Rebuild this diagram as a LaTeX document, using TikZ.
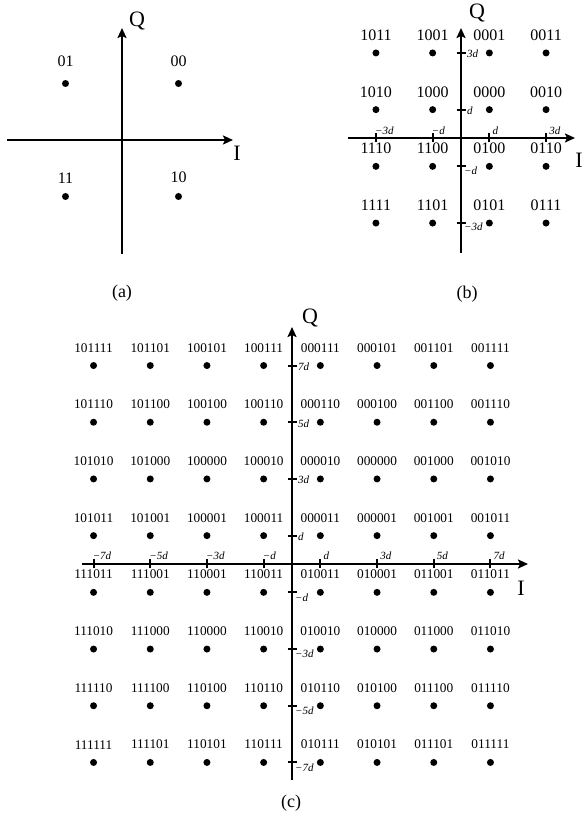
\documentclass[tikz,border=0pt]{standalone}
\usepackage{fontspec}
\setmainfont{Liberation Serif}
\usetikzlibrary{arrows.meta,positioning}

\tikzset{
  axis/.style={line width=2.7pt,-{Stealth[length=10pt,width=9pt,inset=2pt]}},
  tickmark/.style={line width=2pt},
  pt/.style={circle,fill,inner sep=0pt,minimum size=7pt},
  bits/.style={font=\fontsize{16}{16}\selectfont,inner sep=0pt},
  smallbits/.style={font=\fontsize{13.3}{13.3}\selectfont,inner sep=0pt},
  axlab/.style={font=\fontsize{22}{22}\selectfont,inner sep=0pt},
  ticklab/.style={font=\fontsize{11}{11}\selectfont\itshape,inner sep=0pt},
  caption/.style={font=\fontsize{18}{18}\selectfont,inner sep=0pt}
}

\begin{document}
\begin{tikzpicture}[x=1pt,y=1pt]
  \useasboundingbox (0,0) rectangle (584,814);

  % (a) four points
  \begin{scope}[shift={(122,674)}]
    \coordinate (aW) at (-115,0); \coordinate (aE) at (111,0);
    \coordinate (aS) at (0,-114); \coordinate (aN) at (0,112);
    \draw[axis] (aW) -- (aE);
    \draw[axis] (aS) -- (aN);
    \node[axlab] (aQ) at (15,119) {Q};
    \node[axlab] (aI) at (115,-13) {I};
    \foreach \i/\j/\lab/\gap in {-1/1/01/13pt,1/1/00/13pt,-1/-1/11/9.5pt,1/-1/10/9.5pt} {
      \node[pt] (a\lab) at (56.5*\i,56.5*\j) {};
      \node[bits,above=\gap of a\lab] (la\lab) {\lab};
    }
    \node[caption] (capa) at (0,-153) {(a)};
  \end{scope}

  % (b) sixteen points
  \begin{scope}[shift={(461,676)}]
    \coordinate (bW) at (-113,0); \coordinate (bE) at (114,0);
    \coordinate (bS) at (0,-115); \coordinate (bN) at (0,110);
    \draw[axis] (bW) -- (bE);
    \draw[axis] (bS) -- (bN);
    \node[axlab] (bQ) at (16,125) {Q};
    \node[axlab] (bI) at (118,-22) {I};
    \foreach \k in {-3,-1,1,3} {
      \draw[tickmark] (28.35*\k,-4.5) -- (28.35*\k,4.5);
      \draw[tickmark] (-4.5,28.35*\k) -- (4.5,28.35*\k);
    }
    \foreach \k/\t in {1/d,3/3d} {
      \node[ticklab,anchor=south west] at (28.35*\k+3,3.5) {\t};
      \node[ticklab,anchor=west] at (6,28.35*\k-1) {\t};
    }
    \foreach \k/\t in {-1/−d,-3/−3d} {
      \node[ticklab,anchor=south west] at (28.35*\k-1,3.5) {\t};
      \node[ticklab,anchor=west] at (3,28.35*\k-4) {\t};
    }
    \foreach \lab [count=\n from 0] in {1011,1001,0001,0011,1010,1000,0000,0010,
        1110,1100,0100,0110,1111,1101,0101,0111} {
      \pgfmathtruncatemacro\col{mod(\n,4)}
      \pgfmathtruncatemacro\rw{div(\n,4)}
      \node[pt] (b\lab) at ({28.35*(2*\col-3)},{28.35*(3-2*\rw)}) {};
      \node[bits,above=8.3pt of b\lab] (lb\lab) {\lab};
    }
    \node[caption] (capb) at (6,-156) {(b)};
  \end{scope}

  % (c) sixty-four points
  \begin{scope}[shift={(292,250)}]
    \coordinate (cW) at (-210,0); \coordinate (cE) at (236,0);
    \coordinate (cS) at (0,-216); \coordinate (cN) at (0,237);
    \draw[axis] (cW) -- (cE);
    \draw[axis] (cS) -- (cN);
    \node[axlab] (cQ) at (18,246) {Q};
    \node[axlab] (cI) at (229,-24) {I};
    \foreach \k in {-7,-5,-3,-1,1,3,5,7} {
      \draw[tickmark] (28.35*\k,-4.5) -- (28.35*\k,4.5);
      \draw[tickmark] (-4.5,28.35*\k) -- (4.5,28.35*\k);
    }
    \foreach \k/\t in {1/d,3/3d,5/5d,7/7d} {
      \node[ticklab,anchor=south west] at (28.35*\k+3,4) {\t};
      \node[ticklab,anchor=west] at (6,28.35*\k-1) {\t};
    }
    \foreach \k/\t in {-1/−d,-3/−3d,-5/−5d,-7/−7d} {
      \node[ticklab,anchor=south west] at (28.35*\k-1,4) {\t};
      \node[ticklab,anchor=west] at (3,28.35*\k-5) {\t};
    }
    \foreach \lab [count=\n from 0] in {
        101111,101101,100101,100111,000111,000101,001101,001111,
        101110,101100,100100,100110,000110,000100,001100,001110,
        101010,101000,100000,100010,000010,000000,001000,001010,
        101011,101001,100001,100011,000011,000001,001001,001011,
        111011,111001,110001,110011,010011,010001,011001,011011,
        111010,111000,110000,110010,010010,010000,011000,011010,
        111110,111100,110100,110110,010110,010100,011100,011110,
        111111,111101,110101,110111,010111,010101,011101,011111} {
      \pgfmathtruncatemacro\col{mod(\n,8)}
      \pgfmathtruncatemacro\rw{div(\n,8)}
      \node[pt] (c\lab) at ({28.35*(2*\col-7)},{28.35*(7-2*\rw)}) {};
      \node[smallbits,above=9.5pt of c\lab] (lc\lab) {\lab};
    }
    \node[caption] (capc) at (-1,-239) {(c)};
  \end{scope}
\end{tikzpicture}
\end{document}
